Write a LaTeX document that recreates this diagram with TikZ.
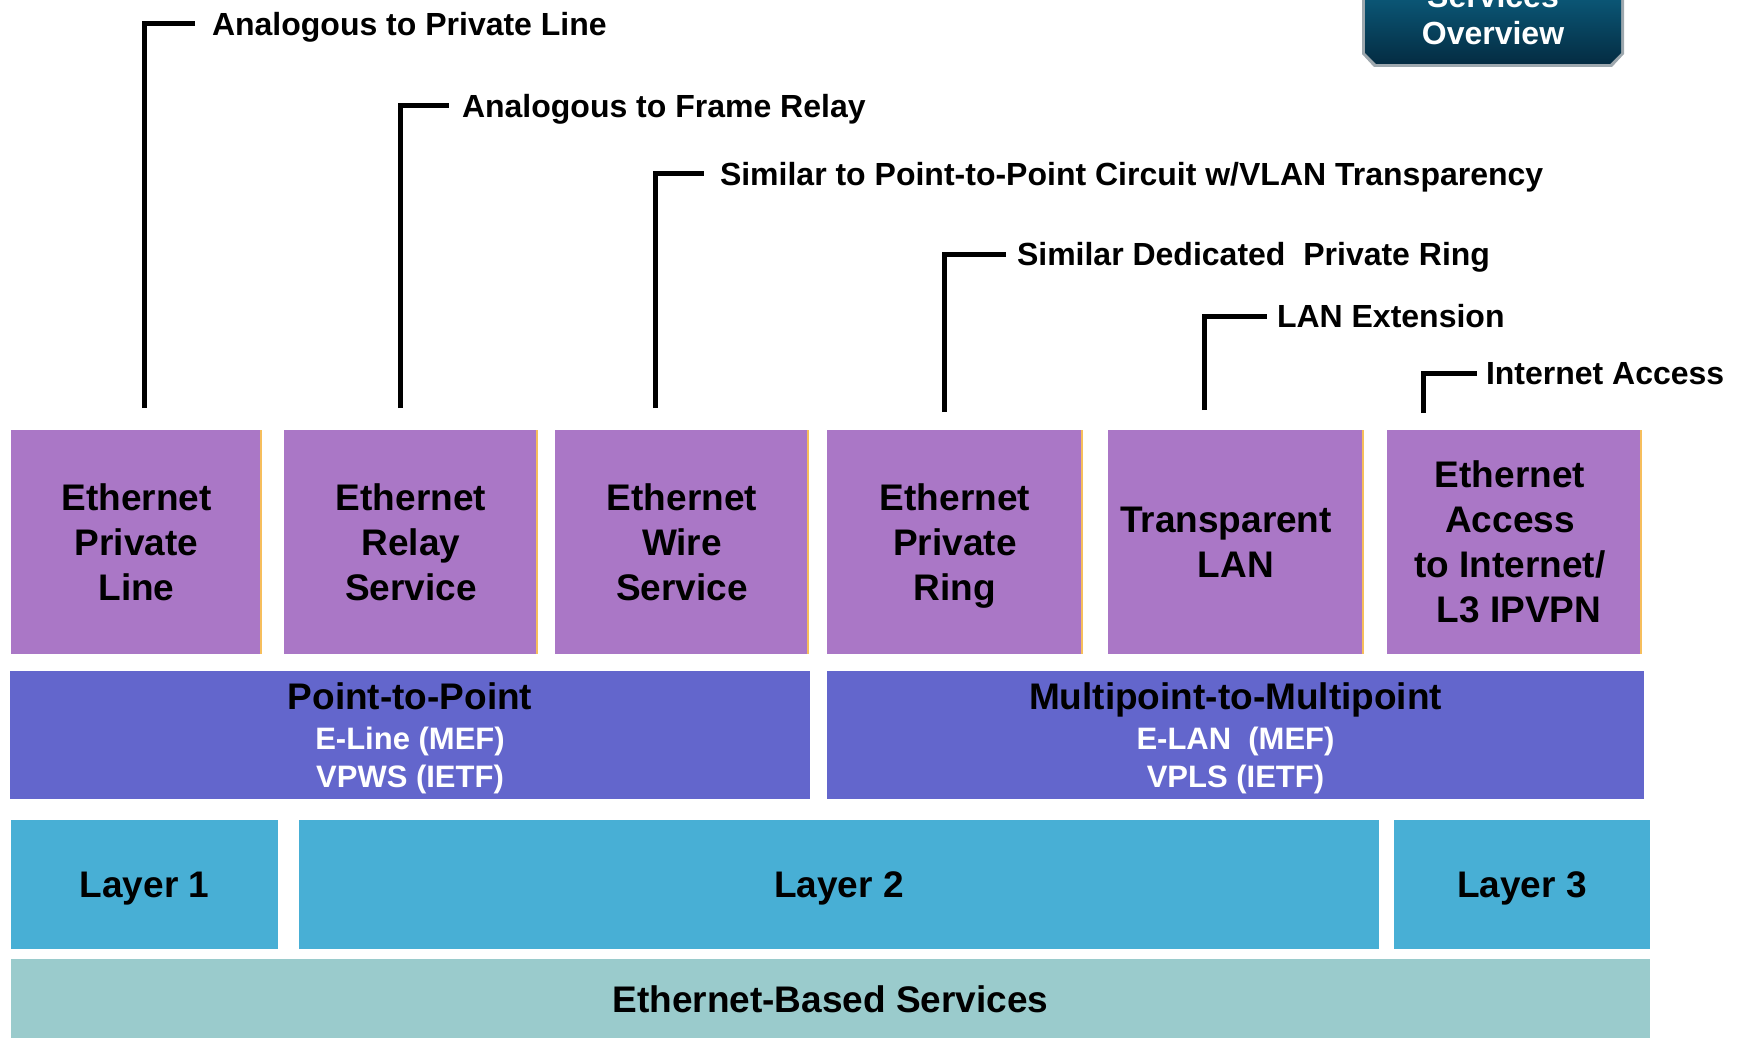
\documentclass[tikz,border=0pt]{standalone}
\usepackage{fontspec}
\setmainfont{Liberation Sans}
\definecolor{pboxc}{RGB}{170,119,198}
\definecolor{edgec}{RGB}{246,190,92}
\definecolor{mboxc}{RGB}{99,102,204}
\definecolor{lboxc}{RGB}{72,175,213}
\definecolor{bboxc}{RGB}{154,203,204}
\definecolor{badgetop}{RGB}{12,98,132}
\definecolor{badgebot}{RGB}{4,44,66}
\definecolor{badgeedge}{RGB}{158,168,174}
\tikzset{
  anybox/.style={draw=none, inner sep=0pt, outer sep=0pt, align=center},
  pbox/.style={anybox, fill=pboxc, minimum height=224pt,
    font=\bfseries\fontsize{37}{45}\selectfont,
    path picture={\fill[edgec] ([xshift=-2.5pt]path picture bounding box.north east) rectangle (path picture bounding box.south east);}},
  mbox/.style={anybox, fill=mboxc, minimum height=128pt, text=white,
    font=\bfseries\fontsize{31}{40}\selectfont},
  lbox/.style={anybox, fill=lboxc, minimum height=129pt,
    font=\bfseries\fontsize{37}{40}\selectfont, text height=26.5pt, text depth=0pt},
  bbox/.style={anybox, fill=bboxc, minimum height=80pt,
    font=\bfseries\fontsize{37}{40}\selectfont, text height=26.5pt, text depth=0pt},
  calllabel/.style={anchor=west, inner ysep=0pt, outer sep=0pt,
    font=\bfseries\fontsize{32}{36}\selectfont, text height=23pt, text depth=0pt},
  callout/.style={draw=black, line width=5pt}
}
\begin{document}
\begin{tikzpicture}[x=1pt,y=-1pt]
\useasboundingbox (0,0) rectangle (1738,1038);

% badge (top right, partly cut off)
\fill[badgeedge] (1362,-20) -- (1624,-20) -- (1624,54) -- (1612,67) -- (1374,67) -- (1362,54) -- cycle;
\shade[top color=badgetop, bottom color=badgebot] (1365,-20) -- (1621,-20) -- (1621,53) -- (1610,64) -- (1376,64) -- (1365,53) -- cycle;
\node[anybox, text=white, font=\bfseries\fontsize{32}{37}\selectfont] (badgetext) at (1493,14.5) {Services\\Overview};

% service boxes
\node[pbox, minimum width=251pt] (b1) at (136.5,542) {Ethernet\\Private\\Line};
\node[pbox, minimum width=254pt] (b2) at (411,542) {Ethernet\\Relay\\Service};
\node[pbox, minimum width=254pt] (b3) at (682,542) {Ethernet\\Wire\\Service};
\node[pbox, minimum width=256pt] (b4) at (955,542) {Ethernet\\Private\\\smash{Ring}};
\node[pbox, minimum width=256pt] (b5) at (1236,542) {Transparent\rule{20pt}{0pt}\\LAN};
\node[pbox, minimum width=255pt] (b6) at (1514.5,542)
  {Ethernet\rule{9pt}{0pt}\\Access\rule{9pt}{0pt}\\to Internet/\rule{9pt}{0pt}\\\rule{18pt}{0pt}L3 IPVPN\rule{9pt}{0pt}};

% topology boxes
\node[mbox, minimum width=800pt] (p2p) at (410,735)
  {{\color{black}\fontsize{37}{40}\selectfont Point-to-Point}\\E-Line (MEF)\\[-2pt]\smash{VPWS (IETF)}};
\node[mbox, minimum width=817pt] (mp) at (1235.5,735)
  {{\color{black}\fontsize{37}{40}\selectfont Multipoint-to-Multipoint}\\E-LAN~~(MEF)\\[-2pt]\smash{VPLS (IETF)}};

% layer boxes
\node[lbox, minimum width=267pt] (l1) at (144.5,884.5) {Layer 1};
\node[lbox, minimum width=1080pt] (l2) at (839,884.5) {Layer 2};
\node[lbox, minimum width=256pt] (l3) at (1522,884.5) {Layer 3};

% base
\node[bbox, minimum width=1639pt] (base) at (830.5,999) {Ethernet-Based Services};

% callout labels
\node[calllabel, inner xsep=17pt] (t1) at (195,24) {Analogous to Private Line};
\node[calllabel, inner xsep=13pt] (t2) at (449,106) {Analogous to Frame Relay};
\node[calllabel, inner xsep=16pt] (t3) at (704,174) {Similar to Point-to-Point Circuit w/VLAN Transparency};
\node[calllabel, inner xsep=11pt] (t4) at (1006,254) {Similar Dedicated~~Private Ring};
\node[calllabel, inner xsep=10pt] (t5) at (1267,316) {LAN Extension};
\node[calllabel, inner xsep=9pt] (t6) at (1477,373) {Internet Access};

\coordinate (c1) at (144,408);
\coordinate (c2) at (400,408);
\coordinate (c3) at (655,408);
\coordinate (c4) at (944,412);
\coordinate (c5) at (1204,410);
\coordinate (c6) at (1423,413);

\draw[callout] (c1) |- (t1.west);
\draw[callout] (c2) |- (t2.west);
\draw[callout] (c3) |- (t3.west);
\draw[callout] (c4) |- (t4.west);
\draw[callout] (c5) |- (t5.west);
\draw[callout] (c6) |- (t6.west);
\end{tikzpicture}
\end{document}
